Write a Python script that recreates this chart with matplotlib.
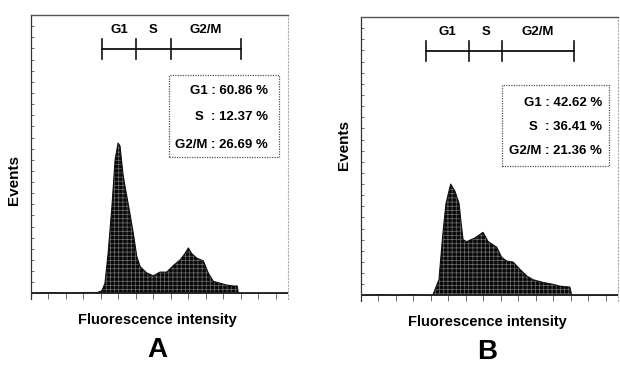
import matplotlib
matplotlib.use("Agg")
import matplotlib.pyplot as plt
from matplotlib.patches import Rectangle

plt.rcParams['font.family'] = ['Liberation Sans', 'DejaVu Sans']
plt.rcParams['font.weight'] = 'bold'
plt.rcParams['hatch.linewidth'] = 0.5
plt.rcParams['hatch.color'] = '#6f6f6f'

# histogram A (channel, events)
x_a = [0, 10, 20, 30, 38, 40.6, 42.3, 44.1, 46.3, 48.1, 49.8, 50.9, 52.6, 53.8, 56.6,
       58.5, 60.5, 62.4, 66.2, 70.0, 73.8, 77.6, 81.4, 85.2, 88.1, 90.0, 91.9, 94.8,
       98.6, 101.4, 104.3, 108.1, 112, 115.7, 118.0, 118.6, 147]
y_a = [0, 1, 0, 1, 1, 3, 11, 43, 94, 144, 162, 159, 129, 115, 86,
       65, 40, 29, 22, 19, 23, 23, 30, 36, 43, 49, 43, 38,
       35, 22, 13, 11, 9, 8, 8, 0, 0]

# histogram B
x_b = [0, 10, 20, 30, 39.5, 41.2, 44.6, 46.7, 48.6, 51.3, 53.8, 56.1, 57.2, 58.4, 60.5,
       65.2, 69.8, 72.7, 77.6, 80.5, 83.4, 87.0, 91.0, 94.8, 98.4, 104.1, 109.8,
       113.8, 119.5, 120.5, 147]
y_b = [0, 1, 0, 1, 0, 1, 17, 64, 99, 120, 112, 99, 79, 60, 58,
       62, 68, 58, 52, 41, 37, 36, 28, 21, 17, 14, 12,
       10, 9, 0, 0]

gate_names = ['G1', 'S', 'G2/M']
gates_a = [40.6, 60, 80, 120]
gates_b = [37.2, 61.8, 80.7, 121.9]

pct_a = ['60.86', '12.37', '26.69']
pct_b = ['42.62', '36.41', '21.36']

fig = plt.figure(figsize=(6.2, 3.67), dpi=100)


def panel(rect, xs, ys, gates, pcts, box, text_x, rows, letter, ev_y):
    ax = fig.add_axes(rect)
    ax.fill_between(xs, ys, 0, facecolor='#080808', edgecolor='#6f6f6f',
                    hatch='++++', linewidth=0)
    ax.plot(xs, ys, color='#111111', lw=0.8)
    ax.plot([0, 147], [0, 0], color='#222222', lw=1.3)
    ax.set_xlim(0, 147)
    ax.set_ylim(-6, 300)

    ax.spines['bottom'].set_visible(False)
    ax.spines['left'].set_color('#333333')
    ax.spines['left'].set_linewidth(0.9)
    ax.spines['top'].set_linestyle((0, (1, 1)))
    ax.spines['top'].set_color('#555555')
    ax.spines['top'].set_linewidth(1.0)
    ax.spines['right'].set_linestyle((0, (1, 2)))
    ax.spines['right'].set_color('#aaaaaa')
    ax.spines['right'].set_linewidth(0.8)

    ax.set_xticks(range(0, 148, 10))
    ax.set_xticklabels([])
    ax.tick_params(axis='x', direction='in', length=4, width=0.6, color='#555555')
    ax.set_yticks(range(0, 300, 12))
    ax.set_yticklabels([])
    ax.tick_params(axis='y', direction='in', length=2, width=0.6, color='#555555')

    # gate markers
    yb = 263
    ax.plot([gates[0], gates[-1]], [yb, yb], color='#111111', lw=1.3)
    for g in gates:
        ax.plot([g, g], [yb - 10, yb + 11], color='#111111', lw=1.2)
    for i, name in enumerate(gate_names):
        ax.text((gates[i] + gates[i + 1]) / 2, 284, name, ha='center', va='center',
                fontsize=9.5, fontweight='bold')

    # stats box
    ax.add_patch(Rectangle((box[0], box[1]), box[2] - box[0], box[3] - box[1],
                           transform=ax.transAxes, fill=False, edgecolor='#555555',
                           linestyle=(0, (1, 1)), lw=0.9))
    lines = ['G1 : ' + pcts[0] + ' %', 'S  : ' + pcts[1] + ' %', 'G2/M : ' + pcts[2] + ' %']
    for s, yy in zip(lines, rows):
        ax.text(text_x, yy, s, transform=ax.transAxes, ha='right', va='center',
                fontsize=9.5, fontweight='bold')

    ax.text(-0.065, ev_y, 'Events', transform=ax.transAxes, rotation=90,
            ha='center', va='center', fontsize=11, fontweight='bold')
    ax.text(0.49, -0.075, 'Fluorescence intensity', transform=ax.transAxes,
            ha='center', va='center', fontsize=10.5, fontweight='bold')
    ax.text(0.49, -0.18, letter, transform=ax.transAxes,
            ha='center', va='center', fontsize=20)
    return ax


panel([31 / 620, 0.1853, 257 / 620, 0.7738], x_a, y_a, gates_a, pct_a,
      (0.537, 0.500, 0.965, 0.789), 0.922, (0.732, 0.641, 0.542), 'A', 0.42)
panel([361 / 620, 0.1798, 257 / 620, 0.7738], x_b, y_b, gates_b, pct_b,
      (0.549, 0.475, 0.965, 0.761), 0.938, (0.697, 0.613, 0.528), 'B', 0.55)

fig.savefig('out.png', dpi=100)
